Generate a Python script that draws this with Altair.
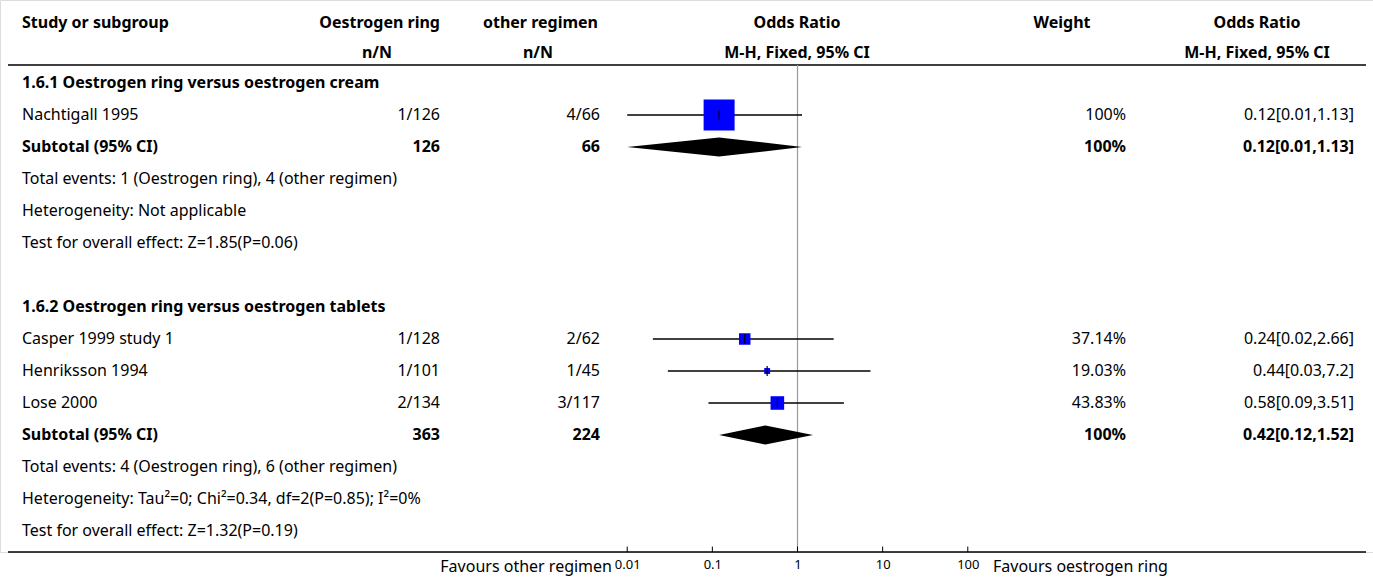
import altair as alt
import pandas as pd

# ---- table content -------------------------------------------------------
labels = [
    "1.6.1 Oestrogen ring versus oestrogen cream",
    "Nachtigall 1995",
    "Subtotal (95% CI)",
    "Total events: 1 (Oestrogen ring), 4 (other regimen)",
    "Heterogeneity: Not applicable",
    "Test for overall effect: Z=1.85(P=0.06)",
    "",
    "1.6.2 Oestrogen ring versus oestrogen tablets",
    "Casper 1999 study 1",
    "Henriksson 1994",
    "Lose 2000",
    "Subtotal (95% CI)",
    "Total events: 4 (Oestrogen ring), 6 (other regimen)",
    "Heterogeneity: Tau\u00b2=0; Chi\u00b2=0.34, df=2(P=0.85); I\u00b2=0%",
    "Test for overall effect: Z=1.32(P=0.19)",
]
n_ring = ["", "1/126", "126", "", "", "", "", "", "1/128", "1/101", "2/134", "363", "", "", ""]
n_other = ["", "4/66", "66", "", "", "", "", "", "2/62", "1/45", "3/117", "224", "", "", ""]
weights = ["", "100%", "100%", "", "", "", "", "", "37.14%", "19.03%", "43.83%", "100%", "", "", ""]
or_text = ["", "0.12[0.01,1.13]", "0.12[0.01,1.13]", "", "", "", "", "",
           "0.24[0.02,2.66]", "0.44[0.03,7.2]", "0.58[0.09,3.51]", "0.42[0.12,1.52]", "", "", ""]
bold_rows = [0, 2, 7, 11]

# individual studies
study_rows = [1, 8, 9, 10]
study_or = [0.12, 0.24, 0.44, 0.58]
study_lo = [0.01, 0.02, 0.03, 0.09]
study_hi = [1.13, 2.66, 7.2, 3.51]
study_weight = [100, 37.14, 19.03, 43.83]

# pooled subtotals
subtotal_rows = [2, 11]
subtotal_or = [0.12, 0.42]
subtotal_lo = [0.01, 0.12]
subtotal_hi = [1.13, 1.52]

tick_values = [0.01, 0.1, 1, 10, 100]

header_top = ["Study or subgroup", "Oestrogen ring", "other regimen", "Odds Ratio", "Weight", "Odds Ratio"]
header_bottom = ["", "n/N", "n/N", "M-H, Fixed, 95% CI", "", "M-H, Fixed, 95% CI"]
favours_left = "Favours other regimen"
favours_right = "Favours oestrogen ring"

# ---- layout --------------------------------------------------------------
FONT = "Noto Sans"
FS = 16
W, H = 1373, 552
ROW_PX = 32
ROW0_PX = 83
y_domain = [-ROW0_PX / ROW_PX, (H - ROW0_PX) / ROW_PX]
HEAD1, HEAD2 = -1.88, -0.95
TOP_LINE, BOTTOM_LINE = -0.5625, y_domain[1]
FAV_ROW = 15.12

table = pd.DataFrame({
    "row": list(range(len(labels))),
    "label": labels,
    "n_ring": n_ring,
    "n_other": n_other,
    "weight": weights,
    "or_text": or_text,
})
table["bold"] = table["row"].isin(bold_rows)

studies = pd.DataFrame({"row": study_rows, "or": study_or, "lo": study_lo,
                        "hi": study_hi, "w": study_weight})

diamond_pts = []
for i, (r, o, lo, hi) in enumerate(zip(subtotal_rows, subtotal_or, subtotal_lo, subtotal_hi)):
    diamond_pts += [
        {"g": i, "x": lo, "y": r, "y2": r},
        {"g": i, "x": o, "y": r - 0.3, "y2": r + 0.3},
        {"g": i, "x": hi, "y": r, "y2": r},
    ]
diamonds = pd.DataFrame(diamond_pts)

x_scale = alt.Scale(type="log", domain=[10 ** -2.12, 10 ** 2.12], range=[617, 978])
y_scale = alt.Scale(domain=y_domain, reverse=True, zero=False, nice=False)
x_axis = alt.Axis(values=tick_values, format="~g", ticks=False, tickSize=0, domain=False,
                  grid=False, labelFont=FONT, labelFontSize=13, labelColor="#000",
                  labelPadding=6, title=None)


def X(field):
    return alt.X(field, type="quantitative", scale=x_scale, axis=x_axis)


def Y(field):
    return alt.Y(field, type="quantitative", scale=y_scale, axis=None)


layers = []

# body text columns: (field, x position, alignment)
columns = [("label", 22, "left"), ("n_ring", 440, "right"), ("n_other", 600, "right"),
           ("weight", 1126, "right"), ("or_text", 1354, "right")]
base = alt.Chart(table)
for field, xpos, align in columns:
    for bold in (False, True):
        layers.append(
            base.transform_filter(alt.datum.bold if bold else ~alt.datum.bold)
            .mark_text(align=align, baseline="middle", font=FONT, fontSize=FS,
                       fontWeight="bold" if bold else "normal", color="#000")
            .encode(x=alt.value(xpos), y=Y("row"), text=f"{field}:N")
        )

# header cells: (x position, alignment) for top and bottom header lines
header_pos_top = [(22, "left"), (440, "right"), (598, "right"), (797, "center"), (1062, "center"), (1257, "center")]
header_pos_bottom = [(22, "left"), (377, "center"), (538, "center"), (797, "center"), (1062, "center"), (1257, "center")]
for texts, positions, hrow in ((header_top, header_pos_top, HEAD1), (header_bottom, header_pos_bottom, HEAD2)):
    for txt, (xpos, align) in zip(texts, positions):
        if not txt:
            continue
        layers.append(
            alt.Chart(pd.DataFrame({"t": [txt], "row": [hrow]}))
            .mark_text(align=align, baseline="middle", font=FONT, fontSize=FS,
                       fontWeight="bold", color="#000")
            .encode(x=alt.value(xpos), y=Y("row"), text="t:N")
        )

# favours labels under the axis
for txt, xpos, align in ((favours_left, 612, "right"), (favours_right, 993, "left")):
    layers.append(
        alt.Chart(pd.DataFrame({"t": [txt], "row": [FAV_ROW]}))
        .mark_text(align=align, baseline="middle", font=FONT, fontSize=FS, color="#000")
        .encode(x=alt.value(xpos), y=Y("row"), text="t:N")
    )

# horizontal separator lines
for r in (TOP_LINE, BOTTOM_LINE):
    layers.append(
        alt.Chart(pd.DataFrame({"row": [r]}))
        .mark_rule(color="#000", strokeWidth=1.5)
        .encode(x=alt.value(8), x2=alt.value(1366), y=Y("row"))
    )

# line of no effect
layers.append(
    alt.Chart(pd.DataFrame({"or": [1], "y0": [TOP_LINE], "y1": [BOTTOM_LINE]}))
    .mark_rule(color="#9a9a9a", strokeWidth=1.2)
    .encode(x=X("or"), y=Y("y0"), y2="y1")
)

# axis ticks standing on the bottom line
layers.append(
    alt.Chart(pd.DataFrame({"or": tick_values, "y0": [BOTTOM_LINE - 0.17] * len(tick_values),
                            "y1": [BOTTOM_LINE] * len(tick_values)}))
    .mark_rule(color="#000", strokeWidth=1)
    .encode(x=X("or"), y=Y("y0"), y2="y1")
)

# confidence intervals
layers.append(
    alt.Chart(studies).mark_rule(color="#000", strokeWidth=1.3)
    .encode(x=X("lo"), x2="hi", y=Y("row"))
)

# weighted squares (side proportional to weight)
layers.append(
    alt.Chart(studies).mark_square(color="#0000ff", opacity=1, strokeWidth=0)
    .encode(x=X("or"), y=Y("row"),
            size=alt.Size("w:Q", scale=alt.Scale(type="pow", exponent=2, domain=[0, 100],
                                                 range=[0, 961]), legend=None))
)

# point-estimate marks inside the squares
layers.append(
    alt.Chart(studies)
    .transform_calculate(y0="datum.row - 0.16", y1="datum.row + 0.16")
    .mark_rule(color="#000", strokeWidth=1.2)
    .encode(x=X("or"), y=Y("y0"), y2="y1")
)

# pooled diamonds
layers.append(
    alt.Chart(diamonds).mark_area(color="#000", opacity=1)
    .encode(x=X("x"), y=Y("y"), y2="y2", detail="g:N")
)

chart = (
    alt.layer(*layers)
    .properties(width=W, height=H, autosize=alt.AutoSizeParams(type="none"),
                padding={"left": 0, "top": 0, "right": 0, "bottom": 30})
    .configure_view(stroke=None)
    .configure(background="white")
)

chart.save("out.html", embed_options={"renderer": "svg", "actions": False})
